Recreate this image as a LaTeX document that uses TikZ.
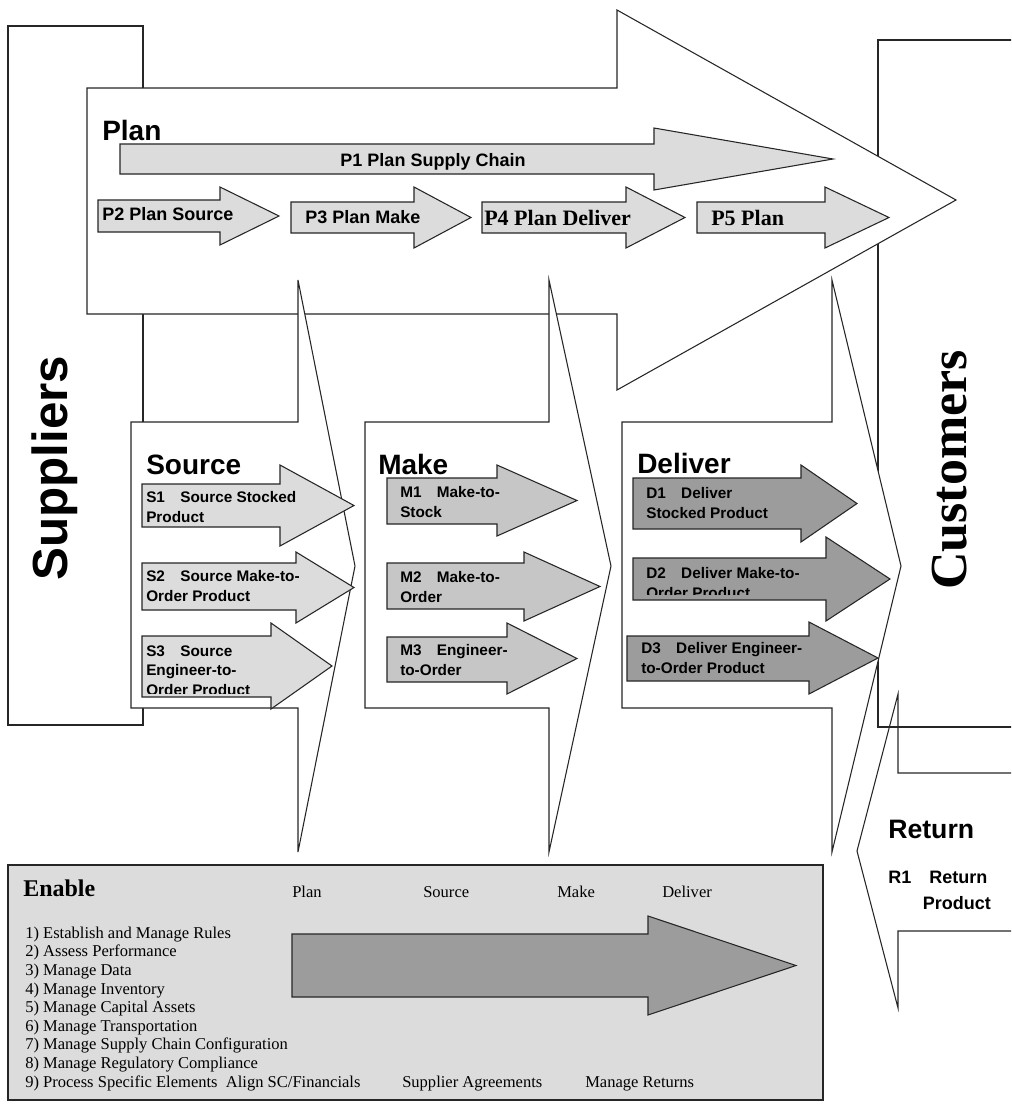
\documentclass[tikz,border=0pt]{standalone}
\usepackage{fontspec}
\setmainfont{Liberation Serif}
\setsansfont{Liberation Sans}
\definecolor{Ink}{HTML}{262626}
\definecolor{PaleGrey}{HTML}{DCDCDC}
\definecolor{MidGrey}{HTML}{C6C6C6}
\definecolor{DarkGrey}{HTML}{9C9C9C}
\tikzset{
  frame line/.style={draw=Ink,line width=.8pt},
  blank arrow/.style={frame line,fill=white},
  pale arrow/.style={frame line,fill=PaleGrey},
  mid arrow/.style={frame line,fill=MidGrey},
  dark arrow/.style={frame line,fill=DarkGrey},
  stage title/.style={anchor=base west,inner sep=0pt,
    font=\sffamily\bfseries\fontsize{21}{25}\selectfont},
  plan label/.style={anchor=base west,inner sep=0pt,
    font=\sffamily\bfseries\fontsize{13.5}{16}\selectfont},
  plan serif/.style={anchor=base west,inner sep=0pt,
    font=\rmfamily\bfseries\fontsize{16.5}{19}\selectfont},
  process label/.style={anchor=base west,inner sep=0pt,align=left,
    font=\sffamily\bfseries\fontsize{11.5}{14.6}\selectfont},
  enable label/.style={anchor=base west,inner sep=0pt,
    font=\rmfamily\fontsize{12.4}{13.95}\selectfont},
  party label/.style={rotate=90,inner sep=0pt}
}
% block arrow: style, shaft left, shaft top, shaft bottom, head base, head top, head bottom, tip
\newcommand{\blockarrow}[8]{%
  \draw[#1] (#2,#3) -- (#5,#3) -- (#5,#6) -- (#8,{(#6+#7)/2}) -- (#5,#7)
    -- (#5,#4) -- (#2,#4) -- cycle;}

\begin{document}
\begin{tikzpicture}[x=.75pt,y=-.75pt]
  \useasboundingbox (0,0) rectangle (1011,1107);
  \clip (0,0) rectangle (1011,1107);
  % suppliers and customers
  \draw[frame line] (8,26) rectangle (143,725);
  \draw[frame line] (878,40) rectangle (1030,727);
  \blockarrow{frame line}{1030}{773}{931}{898}{694}{1008}{857}
  % plan
  \blockarrow{blank arrow}{87}{88}{314}{617}{10}{390}{956}
  \node[stage title] (plan) at (102,140) {Plan};
  \blockarrow{pale arrow}{120}{144}{174}{654}{128}{190}{833}
  \node[plan label,anchor=base] (p1) at (433,166) {P1 Plan Supply Chain};
  \blockarrow{pale arrow}{98}{200}{232}{220}{187}{245}{279}
  \node[plan label] (p2) at (102,220) {P2 Plan Source};
  \blockarrow{pale arrow}{291}{202}{233}{414}{187}{248}{471}
  \node[plan label] (p3) at (305,223) {P3 Plan Make};
  \blockarrow{pale arrow}{482}{202}{233}{626}{187}{248}{685}
  \node[plan serif] (p4) at (484,225) {P4 Plan Deliver};
  \blockarrow{pale arrow}{697}{202}{233}{825}{187}{248}{889}
  \node[plan serif] (p5) at (711,225) {P5 Plan};
  % source, make, deliver
  \blockarrow{blank arrow}{131}{422}{708}{298}{280}{852}{355}
  \blockarrow{blank arrow}{365}{422}{708}{549}{280}{852}{611}
  \blockarrow{blank arrow}{622}{422}{708}{832}{280}{852}{901}
  \node[stage title] (source) at (146,474) {Source};
  \node[stage title] (make) at (378,474) {Make};
  \node[stage title] (deliver) at (637,473) {Deliver};

  \blockarrow{pale arrow}{142}{484}{527}{280}{465}{546}{354}
  \node[process label] (s1) at (146,522) {S1\quad Source Stocked\\Product};
  \blockarrow{pale arrow}{142}{563}{610}{296}{552}{623}{354}
  \node[process label] (s2) at (146,601) {S2\quad Source Make-to-\\Order Product};
  \blockarrow{pale arrow}{142}{636}{697}{271}{623}{709}{332}
  \begin{scope}
    \clip (140,600) rectangle (300,693);
    \node[process label] (s3) at (146,695) {S3\quad Source\\Engineer-to-\\Order Product};
  \end{scope}

  \blockarrow{mid arrow}{387}{478}{524}{497}{465}{536}{577}
  \node[process label] (m1) at (400,517) {M1\quad Make-to-\\Stock};
  \blockarrow{mid arrow}{387}{563}{609}{524}{552}{621}{600}
  \node[process label] (m2) at (400,602) {M2\quad Make-to-\\Order};
  \blockarrow{mid arrow}{387}{637}{682}{507}{623}{694}{577}
  \node[process label] (m3) at (400,675) {M3\quad Engineer-\\to-Order};

  \blockarrow{dark arrow}{633}{478}{529}{801}{465}{542}{857}
  \node[process label] (d1) at (646,518) {D1\quad Deliver\\Stocked Product};
  \blockarrow{dark arrow}{633}{558}{600}{826}{537}{621}{890}
  \begin{scope}
    \clip (630,540) rectangle (830,594);
    \node[process label] (d2) at (646,598) {D2\quad Deliver Make-to-\\Order Product};
  \end{scope}
  \blockarrow{dark arrow}{627}{636}{681}{809}{622}{694}{878}
  \node[process label] (d3) at (641,673) {D3\quad Deliver Engineer-\\to-Order Product};

  % return
  \node[stage title,font=\sffamily\bfseries\fontsize{20}{24}\selectfont] (return) at (888,838) {Return};
  \node[process label,font=\sffamily\bfseries\fontsize{13.5}{19}\selectfont] (r1) at (888,909)
    {R1\quad Return\\\hspace*{26pt}Product};

  % side labels
  \node[party label,font=\sffamily\bfseries\fontsize{37}{42}\selectfont] (suppliers) at (55,468) {Suppliers};
  \node[party label,font=\rmfamily\bfseries\fontsize{39}{44}\selectfont] (customers) at (950,470) {Customers};

  % enable
  \draw[frame line,fill=PaleGrey] (8,865) rectangle (823,1100);
  \blockarrow{dark arrow}{292}{934}{997}{648}{916}{1015}{796}
  \node[enable label,font=\rmfamily\bfseries\fontsize{18}{21}\selectfont] (enable) at (23,896) {Enable};
  \node[enable label] (eplan) at (292,897) {Plan};
  \node[enable label] (esource) at (423,897) {Source};
  \node[enable label] (emake) at (557,897) {Make};
  \node[enable label] (edeliver) at (662,897) {Deliver};
  \node[enable label,align=left] (elist) at (25,1087) {1) Establish and Manage Rules\\
    2) Assess Performance\\3) Manage Data\\4) Manage Inventory\\
    5) Manage Capital Assets\\6) Manage Transportation\\
    7) Manage Supply Chain Configuration\\8) Manage Regulatory Compliance\\
    9) Process Specific Elements\enspace Align SC/Financials};
  \node[enable label] (eagree) at (402,1087) {Supplier Agreements};
  \node[enable label] (ereturns) at (585,1087) {Manage Returns};
\end{tikzpicture}
\end{document}
